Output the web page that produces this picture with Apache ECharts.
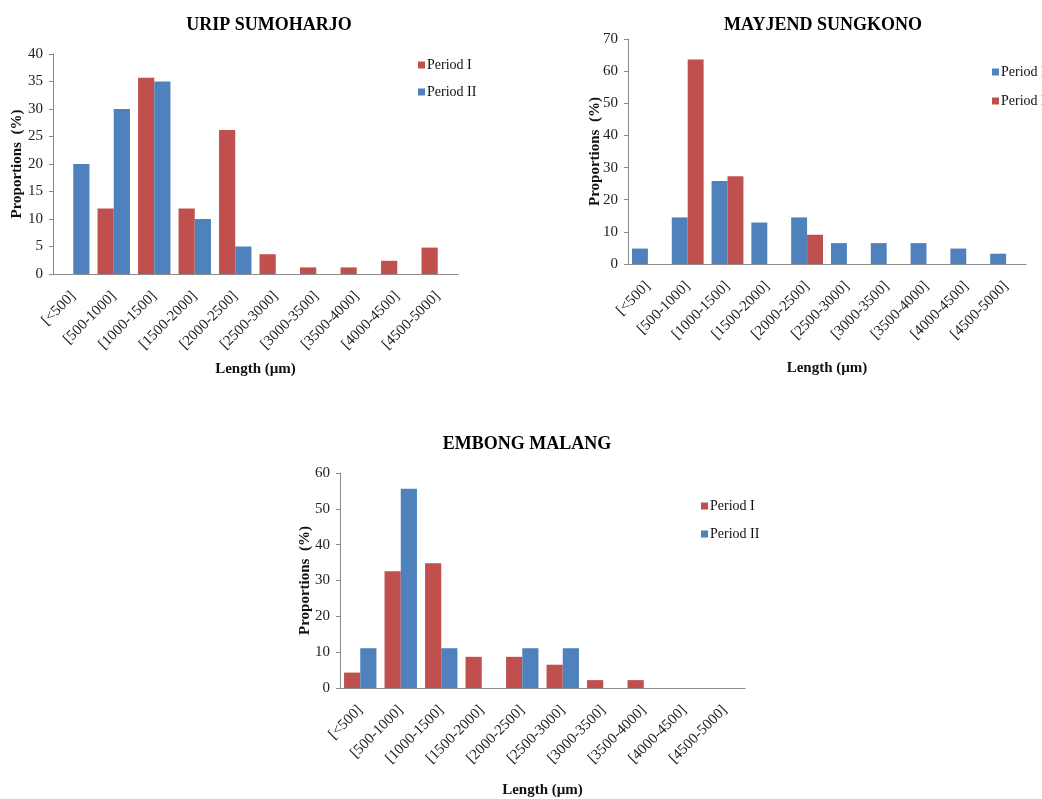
<!DOCTYPE html>
<html>
<head>
<meta charset="utf-8">
<script src="https://cdn.jsdelivr.net/npm/echarts@6/dist/echarts.min.js"></script>
<style>
  html, body { margin: 0; padding: 0; background: #fff; width: 1042px; height: 799px; overflow: hidden; }
  .panel { position: absolute; }
  #c1 { left: 0; top: 0; width: 520px; height: 400px; }
  #c2 { left: 520px; top: 0; width: 522px; height: 400px; }
  #c3 { left: 260px; top: 400px; width: 540px; height: 399px; }
</style>
</head>
<body>
<div id="c1" class="panel"></div>
<div id="c2" class="panel"></div>
<div id="c3" class="panel"></div>
<script>
// Length classes (µm) shared by all three sites
const categories = ['[<500]', '[500-1000]', '[1000-1500]', '[1500-2000]', '[2000-2500]',
                    '[2500-3000]', '[3000-3500]', '[3500-4000]', '[4000-4500]', '[4500-5000]'];

// Proportions (%) per length class
const uripPeriod1 = [0, 11.9, 35.7, 11.9, 26.2, 3.6, 1.2, 1.2, 2.4, 4.8];
const uripPeriod2 = [20, 30, 35, 10, 5, 0, 0, 0, 0, 0];

const mayjendPeriod1 = [4.8, 14.5, 25.8, 12.9, 14.5, 6.5, 6.5, 6.5, 4.8, 3.2];
const mayjendPeriod2 = [0, 63.6, 27.3, 0, 9.1, 0, 0, 0, 0, 0];

const embongPeriod1 = [4.3, 32.6, 34.8, 8.7, 8.7, 6.5, 2.2, 2.2, 0, 0];
const embongPeriod2 = [11.1, 55.6, 11.1, 0, 11.1, 11.1, 0, 0, 0, 0];

const seriesNames = ['Period I', 'Period II'];
const RED = '#C0504D';
const BLUE = '#4F81BD';
const FONT = "'Liberation Serif', 'DejaVu Serif', serif";

function buildOption(cfg) {
  return {
    animation: false,
    textStyle: { fontFamily: FONT },
    graphic: [{
      type: 'text',
      x: cfg.titleX, y: cfg.titleY,
      style: {
        text: cfg.title,
        font: 'bold 18px ' + FONT,
        fill: '#000',
        textAlign: 'center',
        textVerticalAlign: 'middle'
      }
    }],
    legend: {
      orient: 'vertical',
      left: cfg.legend.left, top: cfg.legend.top,
      padding: 0,
      itemWidth: 7, itemHeight: 7, itemGap: cfg.legend.gap,
      icon: 'rect',
      textStyle: { fontFamily: FONT, fontSize: 14, color: '#111', padding: [0, 0, 0, -3] },
      data: seriesNames
    },
    grid: Object.assign({ outerBoundsMode: 'none', containLabel: false }, cfg.grid),
    xAxis: {
      type: 'category',
      data: categories,
      axisLine: { lineStyle: { color: '#8a8a8a', width: 1 } },
      axisTick: { show: false },
      axisLabel: { rotate: 45, interval: 0, margin: 20, fontFamily: FONT, fontSize: 15, color: '#222' },
      name: 'Length (µm)',
      nameLocation: 'middle',
      nameGap: cfg.xNameGap,
      nameMoveOverlap: false,
      nameTextStyle: { fontFamily: FONT, fontSize: 15, fontWeight: 'bold', color: '#111' }
    },
    yAxis: {
      type: 'value',
      min: 0, max: cfg.yMax, interval: cfg.yStep,
      axisLine: { show: true, lineStyle: { color: '#8a8a8a', width: 1 } },
      axisTick: { show: true, length: 4, lineStyle: { color: '#8a8a8a' } },
      splitLine: { show: false },
      axisLabel: { margin: 10, fontFamily: FONT, fontSize: 15, color: '#222' },
      name: 'Proportions  (%)',
      nameLocation: 'middle',
      nameRotate: 90,
      nameGap: cfg.yNameGap,
      nameMoveOverlap: false,
      nameTextStyle: { fontFamily: FONT, fontSize: 15, fontWeight: 'bold', color: '#111' }
    },
    series: [
      { name: seriesNames[0], type: 'bar', data: cfg.s1, itemStyle: { color: cfg.colors[0] },
        barGap: '0%', barCategoryGap: '20%' },
      { name: seriesNames[1], type: 'bar', data: cfg.s2, itemStyle: { color: cfg.colors[1] },
        barGap: '0%', barCategoryGap: '20%' }
    ]
  };
}

echarts.init(document.getElementById('c1')).setOption(buildOption({
  title: 'URIP SUMOHARJO', titleX: 269, titleY: 25,
  grid: { left: 53, top: 54, width: 405, height: 220 },
  yMax: 40, yStep: 5,
  s1: uripPeriod1, s2: uripPeriod2, colors: [RED, BLUE],
  legend: { left: 418, top: 58, gap: 13 },
  xNameGap: 88, yNameGap: 28
}));

echarts.init(document.getElementById('c2')).setOption(buildOption({
  title: 'MAYJEND SUNGKONO', titleX: 303, titleY: 25,
  grid: { left: 108, top: 39, width: 398, height: 225 },
  yMax: 70, yStep: 10,
  s1: mayjendPeriod1, s2: mayjendPeriod2, colors: [BLUE, RED],
  legend: { left: 472, top: 65, gap: 15 },
  xNameGap: 97, yNameGap: 25
}));

echarts.init(document.getElementById('c3')).setOption(buildOption({
  title: 'EMBONG MALANG', titleX: 267, titleY: 44,
  grid: { left: 80, top: 73, width: 405, height: 215 },
  yMax: 60, yStep: 10,
  s1: embongPeriod1, s2: embongPeriod2, colors: [RED, BLUE],
  legend: { left: 441, top: 99, gap: 14 },
  xNameGap: 95, yNameGap: 27
}));
</script>
</body>
</html>
